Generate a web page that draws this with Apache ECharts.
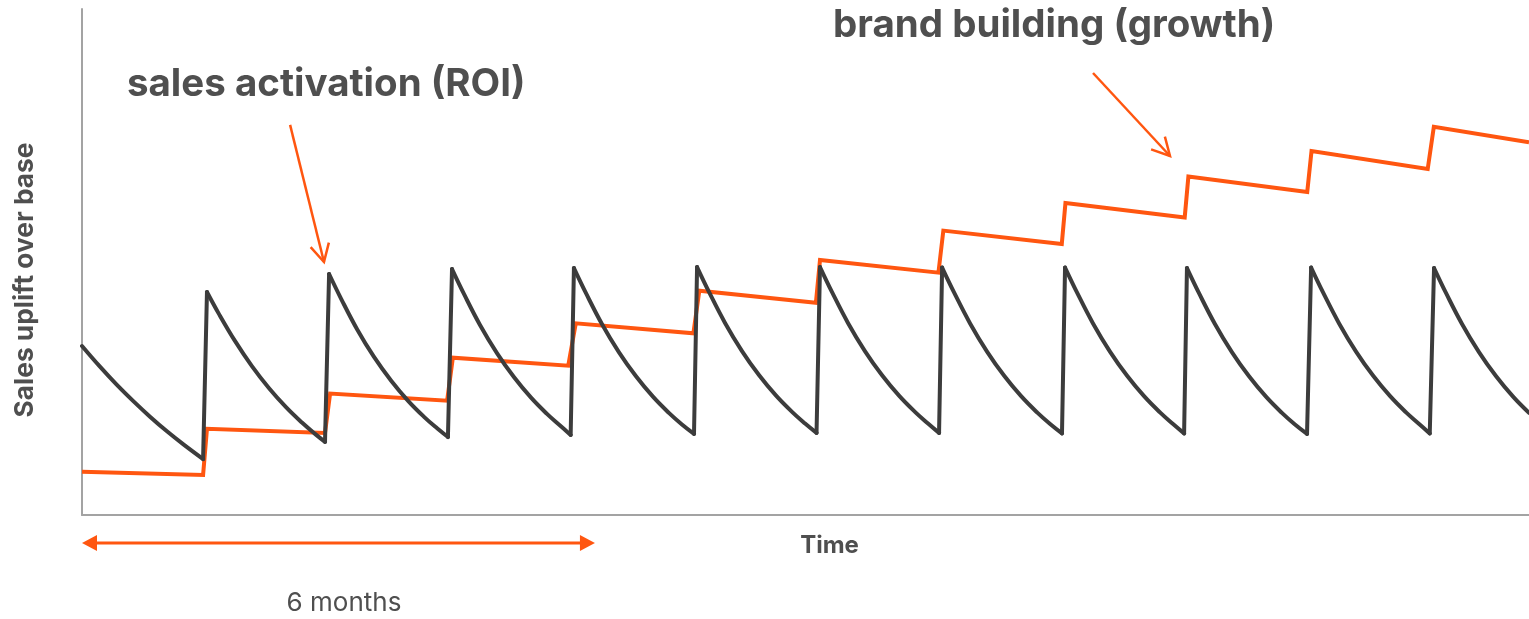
<!DOCTYPE html>
<html><head><meta charset="utf-8">
<script src="https://cdn.jsdelivr.net/npm/echarts@6/dist/echarts.min.js"></script>
<style>html,body{margin:0;padding:0;background:#fff}#c{width:1529px;height:619px}</style>
</head><body><div id="c"></div>
<script>
// Time in weeks, uplift in arbitrary units (0-100)
const activationTime = [
  0, 0.88, 1.71, 2.50, 3.33, 4.16, 4.95, 5.93,
  6.12, 6.71, 7.49, 8.32, 9.16, 9.99, 10.77, 11.41, 11.90,
  12.10, 12.69, 13.47, 14.30, 15.14, 15.97, 16.75, 17.39, 17.92,
  18.12, 18.71, 19.49, 20.32, 21.16, 21.99, 22.77, 23.41, 23.93,
  24.09, 24.68, 25.46, 26.29, 27.13, 27.96, 28.74, 29.38, 29.97,
  30.12, 30.71, 31.49, 32.32, 33.16, 33.99, 34.77, 35.41, 35.97,
  36.14, 36.73, 37.51, 38.34, 39.18, 40.01, 40.79, 41.43, 41.97,
  42.12, 42.71, 43.49, 44.32, 45.16, 45.99, 46.77, 47.41, 47.99,
  48.14, 48.73, 49.51, 50.34, 51.18, 52.01, 52.79, 53.43, 53.97,
  54.11, 54.70, 55.48, 56.31, 57.15, 57.98, 58.76, 59.40, 59.99,
  60.19, 60.78, 61.56, 62.39, 63.23, 64.06, 64.84, 65.48, 66.00,
  66.21, 66.80, 67.58, 68.41, 69.25, 70.08, 70.86
];
const activationLevel = [
  33.40, 29.31, 25.71, 22.55, 19.43, 16.54, 14.01, 11.05,
  44.07, 39.70, 34.40, 29.42, 25.05, 21.31, 18.27, 16.03, 14.46,
  47.63, 42.73, 36.72, 31.24, 26.54, 22.56, 19.40, 17.13, 15.41,
  48.60, 43.64, 37.56, 32.00, 27.21, 23.18, 19.98, 17.68, 15.83,
  48.80, 43.84, 37.76, 32.20, 27.41, 23.38, 20.18, 17.88, 16.03,
  49.00, 44.04, 37.96, 32.40, 27.61, 23.58, 20.38, 18.08, 16.23,
  49.00, 44.04, 37.96, 32.40, 27.61, 23.58, 20.38, 18.08, 16.23,
  48.90, 43.94, 37.86, 32.30, 27.51, 23.48, 20.28, 17.98, 16.13,
  48.90, 43.94, 37.86, 32.30, 27.51, 23.48, 20.28, 17.98, 16.13,
  48.80, 43.84, 37.76, 32.20, 27.41, 23.38, 20.18, 17.88, 16.03,
  48.90, 43.94, 37.86, 32.30, 27.51, 23.48, 20.28, 17.98, 16.13,
  48.80, 43.84, 37.76, 32.20, 27.41, 23.38, 20.18
];
const brandTime = [
  0, 5.93, 6.12, 11.90, 12.15, 17.88, 18.16, 23.81, 24.18, 29.94, 30.23, 35.94,
  36.14, 41.94, 42.18, 47.98, 48.16, 54.00, 54.18, 60.00, 60.21, 65.90, 66.20, 70.86
];
const brandLevel = [
  8.56, 7.91, 17.05, 16.21, 24.01, 22.59, 31.08, 29.50, 37.88, 35.90, 44.32, 41.96,
  50.40, 47.90, 56.20, 53.56, 61.66, 58.79, 66.90, 63.83, 71.94, 68.38, 76.74, 73.66
];
const spanWeeks = [0, 25.12];          // the "6 months" span
const labels = {
  x: 'Time', y: 'Sales uplift over base', span: '6 months',
  activation: 'sales activation (ROI)', brand: 'brand building (growth)'
};

const ORANGE = '#ff5610', DARK = '#3c3c3c', TEXT = '#4f4f4f';
const FONT = 'Inter';

// split the activation curve into smooth decays and straight rises
const decayData = [], riseData = [];
for (let i = 0; i < activationTime.length; i++) {
  const pt = [activationTime[i], activationLevel[i]];
  if (i > 0 && activationLevel[i] > activationLevel[i - 1]) {
    decayData.push(null);
    riseData.push([activationTime[i - 1], activationLevel[i - 1]], pt, null);
  }
  decayData.push(pt);
}
const brandData = brandTime.map((t, i) => [t, brandLevel[i]]);

const chart = echarts.init(document.getElementById('c'), null, {renderer: 'canvas'});

chart.setOption({
  animation: false,
  grid: {left: 82, right: 0, top: 9, bottom: 104},
  xAxis: {
    type: 'value', min: 0, max: 70.86,
    axisLine: {show: true, lineStyle: {color: '#a3a3a3', width: 2}},
    axisTick: {show: false}, axisLabel: {show: false}, splitLine: {show: false},
    name: labels.x, nameLocation: 'middle', nameGap: 19,
    nameTextStyle: {fontFamily: FONT, fontWeight: 'bold', fontSize: 24, color: TEXT, padding: [0, 0, 0, 48]}
  },
  yAxis: {
    type: 'value', min: 0, max: 100,
    axisLine: {show: true, lineStyle: {color: '#a3a3a3', width: 2}},
    axisTick: {show: false}, axisLabel: {show: false}, splitLine: {show: false},
    name: labels.y, nameLocation: 'middle', nameGap: 44,
    nameTextStyle: {fontFamily: FONT, fontWeight: 'bold', fontSize: 26.3, color: TEXT, padding: [0, 36, 0, 0]}
  },
  series: [
    {type: 'line', name: 'brand', data: brandData, showSymbol: false,
     lineStyle: {color: ORANGE, width: 4, join: 'miter'}, clip: false},
    {type: 'line', name: 'activation', data: decayData, showSymbol: false, smooth: 0.4,
     connectNulls: false, lineStyle: {color: DARK, width: 4, cap: 'round', join: 'round'}, clip: false},
    {type: 'line', name: 'activation rise', data: riseData, showSymbol: false,
     connectNulls: false, lineStyle: {color: DARK, width: 4, cap: 'round'}, clip: false}
  ]
});

function P(x, y) { return chart.convertToPixel({gridIndex: 0}, [x, y]); }

function openArrow(from, to, color) {
  const a = P(from[0], from[1]), b = P(to[0], to[1]);
  const dx = a[0] - b[0], dy = a[1] - b[1], len = Math.hypot(dx, dy);
  const ux = dx / len, uy = dy / len, L = 20, t = 28 * Math.PI / 180;
  const w1 = [b[0] + L * (ux * Math.cos(t) - uy * Math.sin(t)), b[1] + L * (ux * Math.sin(t) + uy * Math.cos(t))];
  const w2 = [b[0] + L * (ux * Math.cos(-t) - uy * Math.sin(-t)), b[1] + L * (ux * Math.sin(-t) + uy * Math.cos(-t))];
  return [
    {type: 'line', shape: {x1: a[0], y1: a[1], x2: b[0], y2: b[1]}, style: {stroke: color, lineWidth: 2.5}},
    {type: 'polyline', shape: {points: [w1, b, w2]}, style: {stroke: color, lineWidth: 2.5, fill: null}}
  ];
}

const s0 = P(spanWeeks[0], -5.53), s1 = P(spanWeeks[1], -5.53);
const HL = 15, HH = 8;
const mid = P(12.83, -17.4);
const tA = P(2.2, 85.0), tB = P(36.78, 96.8);

chart.setOption({
  graphic: [
    {type: 'line', shape: {x1: s0[0] + HL - 2, y1: s0[1], x2: s1[0] - HL + 2, y2: s1[1]}, style: {stroke: ORANGE, lineWidth: 3}},
    {type: 'polygon', shape: {points: [[s0[0], s0[1]], [s0[0] + HL, s0[1] - HH], [s0[0] + HL, s0[1] + HH]]}, style: {fill: ORANGE}},
    {type: 'polygon', shape: {points: [[s1[0], s1[1]], [s1[0] - HL, s1[1] - HH], [s1[0] - HL, s1[1] + HH]]}, style: {fill: ORANGE}},
    {type: 'text', x: mid[0], y: mid[1], style: {text: labels.span, fontFamily: FONT, fontSize: 26, fill: TEXT, align: 'center', verticalAlign: 'middle'}},
    {type: 'text', x: tA[0], y: tA[1], style: {text: labels.activation, fontFamily: FONT, fontWeight: 'bold', fontSize: 38.5, fill: TEXT, align: 'left', verticalAlign: 'middle'}},
    {type: 'text', x: tB[0], y: tB[1], style: {text: labels.brand, fontFamily: FONT, fontWeight: 'bold', fontSize: 38.5, fill: TEXT, align: 'left', verticalAlign: 'middle'}},
    ...openArrow([10.19, 77.1], [11.85, 50.0], ORANGE),
    ...openArrow([49.51, 87.35], [53.28, 70.95], ORANGE)
  ]
});
</script></body></html>
